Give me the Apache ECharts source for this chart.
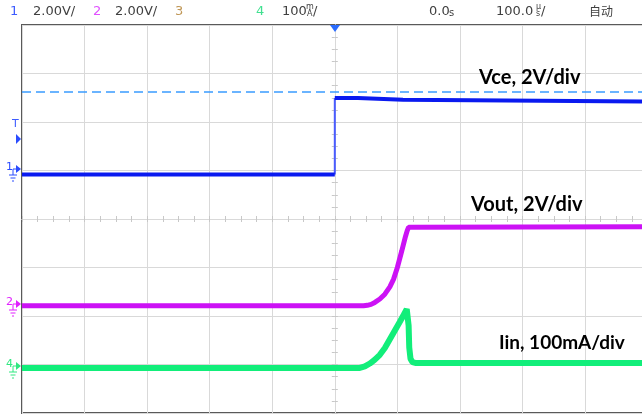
<!DOCTYPE html>
<html><head><meta charset="utf-8">
<script src="https://cdn.jsdelivr.net/npm/echarts@6/dist/echarts.min.js"></script>
<style>html,body{margin:0;padding:0;background:#fff}#c{width:642px;height:415px}</style>
</head><body><div id="c"></div>
<script>
// time in microseconds (100 us/div), vertical position in divisions from screen centre
const vceLowT  = [-500, 0];
const vceLowY  = [0.918, 0.918];
const vceEdgeT = [0, 0];
const vceEdgeY = [0.918, 2.495];
const vceHighT = [0, 37, 37, 109, 109, 500];
const vceHighY = [2.495, 2.495, 2.46, 2.46, 2.42, 2.42];
const refT  = [-500, 500];
const refY  = [2.62, 2.62];
const voutT = [-500, 46, 52, 58, 64, 72, 80, 88, 94, 100, 107, 113, 116, 118, 120, 500];
const voutY = [-1.79, -1.79, -1.78, -1.76, -1.72, -1.65, -1.55, -1.40, -1.24, -1.00, -0.66, -0.36, -0.23, -0.17, -0.16, -0.16];
const iinT  = [-500, 40, 48, 56, 64, 72, 80, 88, 96, 104, 110, 115, 117, 118, 119, 121, 124, 130, 500];
const iinY  = [-3.07, -3.07, -3.04, -2.98, -2.90, -2.80, -2.66, -2.48, -2.30, -2.12, -1.98, -1.86, -1.84, -2.20, -2.65, -2.88, -2.95, -2.97, -2.97];
const xTicks = [-500, -400, -300, -200, -100, 0, 100, 200, 300, 400, 500];
const traceLabels = ['Vce, 2V/div', 'Vout, 2V/div', 'Iin, 100mA/div'];
const header = ['1', '2.00V/', '2', '2.00V/', '3', '4', '100', '0.0s', '100.0µs/', '自动'];

const zip = (a, b) => a.map((v, i) => [v, b[i]]);
const chart = echarts.init(document.getElementById('c'), null, {renderer: 'canvas'});

function chMarker(y, color, label) {
  const z = 100;
  return [
    {type: 'text', z, left: 6, top: y - 7, style: {text: label, fill: color, font: '11px "DejaVu Sans"'}},
    {type: 'polygon', z, shape: {points: [[16, y - 4], [16, y + 4], [21, y]]}, style: {fill: color}},
    {type: 'polyline', z, shape: {points: [[13, y], [16, y]]}, style: {stroke: color, lineWidth: 1}},
    {type: 'polyline', z, shape: {points: [[13, y], [13, y + 6]]}, style: {stroke: color, lineWidth: 1}},
    {type: 'polyline', z, shape: {points: [[9, y + 6], [17, y + 6]]}, style: {stroke: color, lineWidth: 1}},
    {type: 'polyline', z, shape: {points: [[10.5, y + 9], [15.5, y + 9]]}, style: {stroke: color, lineWidth: 1}},
    {type: 'polyline', z, shape: {points: [[12, y + 12], [14, y + 12]]}, style: {stroke: color, lineWidth: 1}}
  ];
}

const hdrFont = '13px "DejaVu Sans"';
const Z = 100;
const graphics = [
  {type: 'text', z: Z, left: 10, top: 5, style: {text: header[0], fill: '#3d5cff', font: hdrFont}},
  {type: 'text', z: Z, left: 33, top: 5, style: {text: header[1], fill: '#404040', font: hdrFont}},
  {type: 'text', z: Z, left: 93, top: 5, style: {text: header[2], fill: '#e050ff', font: hdrFont}},
  {type: 'text', z: Z, left: 115, top: 5, style: {text: header[3], fill: '#404040', font: hdrFont}},
  {type: 'text', z: Z, left: 175, top: 5, style: {text: header[4], fill: '#c09858', font: hdrFont}},
  {type: 'text', z: Z, left: 256, top: 5, style: {text: header[5], fill: '#40e090', font: hdrFont}},
  {type: 'text', z: Z, left: 282, top: 5, style: {text: header[6], fill: '#404040', font: hdrFont}},
  {type: 'text', z: Z, left: 306, top: 3, style: {text: 'm', fill: '#404040', font: '8px "DejaVu Sans"'}},
  {type: 'text', z: Z, left: 307, top: 10, style: {text: 'A', fill: '#404040', font: '8px "DejaVu Sans"'}},
  {type: 'text', z: Z, left: 313, top: 5, style: {text: '/', fill: '#404040', font: hdrFont}},
  {type: 'text', z: Z, left: 429, top: 5, style: {text: '0.0', fill: '#404040', font: hdrFont}},
  {type: 'text', z: Z, left: 449, top: 8, style: {text: 's', fill: '#404040', font: '10px "DejaVu Sans"'}},
  {type: 'text', z: Z, left: 496, top: 5, style: {text: '100.0', fill: '#404040', font: hdrFont}},
  {type: 'text', z: Z, left: 536, top: 3, style: {text: 'µ', fill: '#404040', font: '8px "DejaVu Sans"'}},
  {type: 'text', z: Z, left: 536, top: 10, style: {text: 's', fill: '#404040', font: '8px "DejaVu Sans"'}},
  {type: 'text', z: Z, left: 541, top: 5, style: {text: '/', fill: '#404040', font: hdrFont}},
  {type: 'text', z: Z, left: 589, top: 5, style: {text: header[9], fill: '#404040', font: '12px "Noto Sans CJK SC"'}},
  // trigger position marker
  {type: 'polygon', z: Z, shape: {points: [[330, 25], [340, 25], [335, 32]]}, style: {fill: '#2a6cff'}},
  // trigger level marker
  {type: 'text', z: Z, left: 12, top: 119, style: {text: 'T', fill: '#3d5cff', font: '11px "DejaVu Sans"'}},
  {type: 'polygon', z: Z, shape: {points: [[16, 134], [16, 144], [21, 139]]}, style: {fill: '#2a4cff'}},
  // trace labels
  {type: 'text', z: Z, left: 479, top: 68, style: {text: traceLabels[0], fill: '#000', font: 'bold 20px Lato'}},
  {type: 'text', z: Z, left: 471, top: 195, style: {text: traceLabels[1], fill: '#000', font: 'bold 20px Lato'}},
  {type: 'text', z: Z, left: 499, top: 333, style: {text: traceLabels[2], fill: '#000', font: 'bold 19px Lato'}}
]
  .concat(chMarker(169, '#2a4cff', '1'))
  .concat(chMarker(304, '#e020ff', '2'))
  .concat(chMarker(366, '#30e880', '4'));

const gridCol = '#d9d9d9';
const centreAxisX = (inside) => ({
  type: 'value', min: -500, max: 500, interval: 100, gridIndex: 0,
  axisLine: {show: true, onZero: true, lineStyle: {color: gridCol}},
  axisTick: {show: true, inside: inside, length: 3, lineStyle: {color: '#c8c8c8'}},
  minorTick: {show: true, splitNumber: 4, length: 3, lineStyle: {color: '#c8c8c8'}},
  axisLabel: {show: false}, splitLine: {show: false}
});
const centreAxisY = (inside) => ({
  type: 'value', min: -4, max: 4, interval: 1, gridIndex: 0,
  axisLine: {show: true, onZero: true, lineStyle: {color: gridCol}},
  axisTick: {show: true, inside: inside, length: 3, lineStyle: {color: '#c8c8c8'}},
  minorTick: {show: true, splitNumber: 4, length: 3, lineStyle: {color: '#c8c8c8'}},
  axisLabel: {show: false}, splitLine: {show: false}
});

chart.setOption({
  animation: false,
  backgroundColor: '#fff',
  grid: {left: 22, top: 25, width: 625.6, height: 388, show: true, outerBoundsMode: 'none',
         containLabel: false, borderColor: '#5a5a5a', borderWidth: 2, backgroundColor: '#fff'},
  xAxis: [
    {type: 'value', min: xTicks[0], max: xTicks[xTicks.length - 1], interval: 100,
     axisLine: {show: false}, axisTick: {show: false}, axisLabel: {show: false},
     splitLine: {show: true, lineStyle: {color: gridCol, width: 1}}},
    centreAxisX(false), centreAxisX(true)
  ],
  yAxis: [
    {type: 'value', min: -4, max: 4, interval: 1,
     axisLine: {show: false}, axisTick: {show: false}, axisLabel: {show: false},
     splitLine: {show: true, lineStyle: {color: gridCol, width: 1}}},
    centreAxisY(false), centreAxisY(true)
  ],
  graphic: graphics,
  series: [
    {type: 'line', name: 'ref', data: zip(refT, refY), showSymbol: false, silent: true,
     lineStyle: {color: '#3a9cff', width: 1.5, type: [9, 5]}},
    {type: 'line', name: 'Vce edge', data: zip(vceEdgeT, vceEdgeY), showSymbol: false,
     lineStyle: {color: '#4a5cff', width: 2}},
    {type: 'line', name: 'Vce low', data: zip(vceLowT, vceLowY), showSymbol: false,
     lineStyle: {color: '#0a1af0', width: 4}},
    {type: 'line', name: 'Vce high', data: zip(vceHighT, vceHighY), showSymbol: false,
     lineStyle: {color: '#0a1af0', width: 4}},
    {type: 'line', name: 'Vout', data: zip(voutT, voutY), showSymbol: false,
     lineStyle: {color: '#cc12f5', width: 5}},
    {type: 'line', name: 'Iin', data: zip(iinT, iinY), showSymbol: false,
     lineStyle: {color: '#12ee7a', width: 6}}
  ]
});
</script></body></html>
